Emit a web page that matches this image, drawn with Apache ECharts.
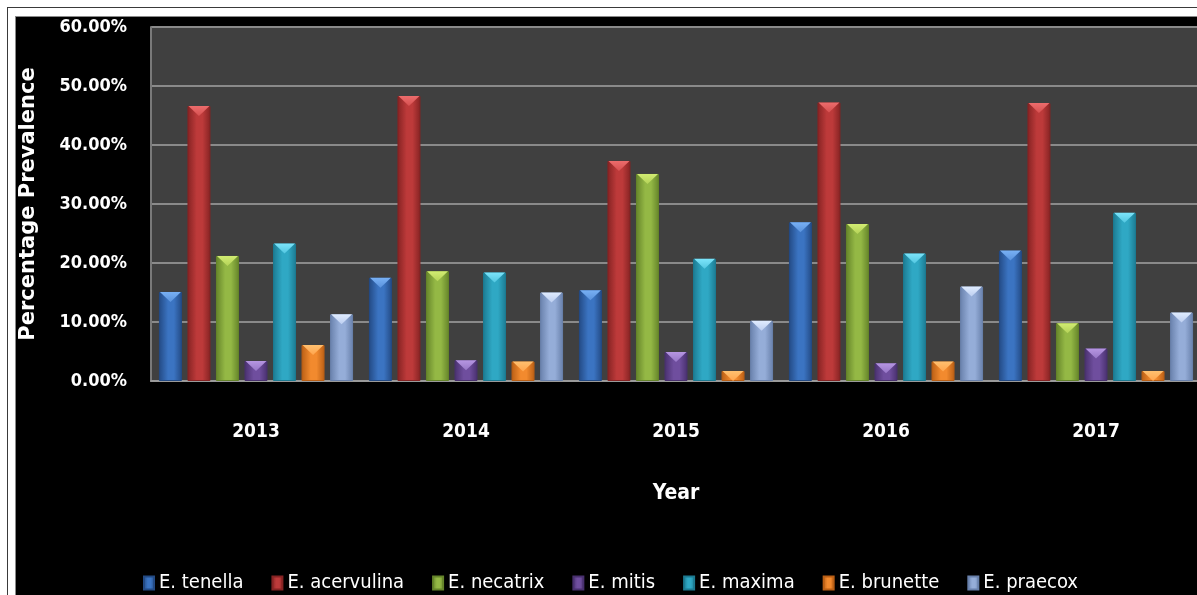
<!DOCTYPE html>
<html>
<head>
<meta charset="utf-8">
<script src="https://cdn.jsdelivr.net/npm/echarts@6/dist/echarts.min.js"></script>
<style>
  html, body { margin: 0; padding: 0; background: #ffffff; width: 1197px; height: 595px; overflow: hidden; }
  #frame { position: absolute; left: 7px; top: 7px; width: 1200px; height: 600px; border: 1px solid #3a3a3a; box-sizing: border-box; }
  #inner { position: absolute; left: 15px; top: 16px; width: 1200px; height: 600px; border: 1px solid #8a8a8a; box-sizing: border-box; }
  #chart { position: absolute; left: 16px; top: 17px; width: 1181px; height: 578px; background: #000000; }
</style>
</head>
<body>
<div id="frame"></div>
<div id="inner"></div>
<div id="chart"></div>
<script>
// Prevalence (%) of Eimeria species by year
const years = ['2013', '2014', '2015', '2016', '2017'];
const species = ['E. tenella', 'E. acervulina', 'E. necatrix', 'E. mitis', 'E. maxima', 'E. brunette', 'E. praecox'];

const tenella    = [15.1, 17.5, 15.4, 26.9, 22.1];
const acervulina = [46.6, 48.3, 37.3, 47.2, 47.1];
const necatrix   = [21.2, 18.6, 35.1, 26.6, 9.8];
const mitis      = [3.4, 3.5, 4.9, 3.0, 5.5];
const maxima     = [23.3, 18.4, 20.7, 21.6, 28.5];
const brunette   = [6.1, 3.3, 1.7, 3.3, 1.7];
const praecox    = [11.3, 15.0, 10.2, 16.0, 11.6];

const yTicks = [0, 10, 20, 30, 40, 50, 60];

const seriesValues = [tenella, acervulina, necatrix, mitis, maxima, brunette, praecox];

// edge / body / bevel shades for each species
const palette = [
  { edge: '#234a84', mid: '#3b74c2', top: '#78b0f4', top2: '#5a92dc' },
  { edge: '#852323', mid: '#bd3a3a', top: '#ec6c6c', top2: '#d65050' },
  { edge: '#65842a', mid: '#94b845', top: '#d2ec72', top2: '#b4d258' },
  { edge: '#48306e', mid: '#6f4e9e', top: '#b696e2', top2: '#9676c6' },
  { edge: '#1c7a91', mid: '#2fa8c4', top: '#7ce4fa', top2: '#52c6e0' },
  { edge: '#ba5f15', mid: '#f28a2e', top: '#ffc070', top2: '#ffa44c' },
  { edge: '#6880ab', mid: '#95add8', top: '#e0ecff', top2: '#bccef0' }
];

const FONT = 'DejaVu Sans Condensed';
const BAR_W = 23;
const BAR_GAP = '24%';

function bodyGradient(p) {
  return new echarts.graphic.LinearGradient(0, 0, 1, 0, [
    { offset: 0, color: p.edge },
    { offset: 0.4, color: p.mid },
    { offset: 0.65, color: p.mid },
    { offset: 1, color: p.edge }
  ]);
}

const series = [];
species.forEach((name, i) => {
  series.push({
    name: name,
    type: 'bar',
    data: seriesValues[i],
    barWidth: BAR_W,
    barGap: BAR_GAP,
    itemStyle: { color: bodyGradient(palette[i]), borderColor: palette[i].edge, borderWidth: 1 },
    emphasis: { disabled: true },
    z: 2
  });
});
// bevelled tip on top of every bar
species.forEach((name, i) => {
  series.push({
    name: name,
    type: 'pictorialBar',
    data: seriesValues[i],
    barWidth: BAR_W,
    barGap: BAR_GAP,
    symbol: 'path://M0,0 L20,0 L10,10 Z',
    symbolSize: [BAR_W - 2, 10],
    symbolPosition: 'end',
    itemStyle: {
      color: new echarts.graphic.LinearGradient(0, 0, 0, 1, [
        { offset: 0, color: palette[i].top },
        { offset: 1, color: palette[i].top2 }
      ])
    },
    silent: true,
    z: 3
  });
});

const chart = echarts.init(document.getElementById('chart'), null, { renderer: 'canvas' });
chart.setOption({
  backgroundColor: '#000000',
  animation: false,
  grid: {
    left: 135, top: 10, width: 1050, height: 354,
    outerBoundsMode: 'none', containLabel: false,
    backgroundColor: '#404040', show: true, borderWidth: 0
  },
  legend: {
    data: species,
    top: 551,
    left: 122,
    itemWidth: 10,
    itemHeight: 13,
    itemGap: 28,
    icon: 'rect',
    textStyle: { color: '#ffffff', fontFamily: FONT, fontSize: 20 }
  },
  xAxis: {
    type: 'category',
    data: years,
    axisLine: { lineStyle: { color: '#9a9a9a', width: 2 } },
    axisTick: { show: false },
    axisLabel: { color: '#ffffff', fontFamily: FONT, fontWeight: 'bold', fontSize: 19, margin: 42 },
    name: 'Year',
    nameLocation: 'middle',
    nameGap: 102,
    nameTextStyle: { color: '#ffffff', fontFamily: FONT, fontWeight: 'bold', fontSize: 21 }
  },
  yAxis: {
    type: 'value',
    min: yTicks[0],
    max: yTicks[yTicks.length - 1],
    interval: 10,
    axisLine: { show: true, lineStyle: { color: '#7a7a7a', width: 2 } },
    axisTick: { show: false },
    splitLine: { lineStyle: { color: '#8a8a8a', width: 2 } },
    axisLabel: {
      color: '#ffffff', fontFamily: FONT, fontWeight: 'bold', fontSize: 18, margin: 24,
      padding: [6, 0, 0, 0],
      formatter: v => v.toFixed(2) + '%'
    },
    name: 'Percentage Prevalence',
    nameLocation: 'middle',
    nameGap: 112,
    nameTextStyle: { color: '#ffffff', fontFamily: 'DejaVu Sans', fontWeight: 'bold', fontSize: 21 }
  },
  series: series
});
</script>
</body>
</html>
